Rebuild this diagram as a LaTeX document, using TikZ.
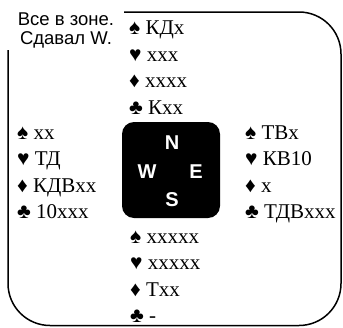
\documentclass[tikz,border=0pt]{standalone}
\usepackage{fontspec}
\setmainfont{Liberation Serif}
\newfontfamily\labelfont{Liberation Sans}
\newcommand*{\HandFont}{\fontsize{21}{24}\selectfont}
\newcommand*{\LineSkip}{26.5}

\begin{document}
\begin{tikzpicture}[x=1pt, y=-1pt,
    hand/.style={anchor=base west, inner sep=0pt, font=\HandFont},
    seat/.style={text=white, inner sep=0pt, font=\labelfont\bfseries\fontsize{20}{20}\selectfont}]
    \useasboundingbox (0,0) rectangle (343,327);
    % frame, partly hidden by the deal label
    \draw[line width=1.5pt, rounded corners=42pt] (8,12) rectangle (341,325.5);
    \fill[white] (0,0) rectangle (124,50);
    \node[align=center, inner sep=0pt, font=\labelfont\fontsize{18.5}{19}\selectfont] (deal) at (66,30) {Все в зоне.\\Сдавал W.};
    % table
    \node[fill=black, rounded corners=12pt, minimum width=98pt, minimum height=96pt] (table) at (171,170) {};
    \node[seat] (N) at (172,143) {N};
    \node[seat] (W) at (147,172) {W};
    \node[seat] (E) at (196,172) {E};
    \node[seat] (S) at (172,200) {S};
    % hands
    \foreach \s/\h [count=\i from 0] in {♠/КДx, ♥/xxx, ♦/xxxx, ♣/Кxx}
        \node[hand] (n\i) at (129, 34.5+\LineSkip*\i) {\s\ \h};
    \foreach \s/\h [count=\i from 0] in {♠/xx, ♥/ТД, ♦/КДВxx, ♣/10xxx}
        \node[hand] (w\i) at (17, 139+\LineSkip*\i) {\s\ \h};
    \foreach \s/\h [count=\i from 0] in {♠/ТВx, ♥/КВ10, ♦/x, ♣/ТДВxxx}
        \node[hand] (e\i) at (245, 139+\LineSkip*\i) {\s\ \h};
    \foreach \s/\h [count=\i from 0] in {♠/xxxxx, ♥/xxxxx, ♦/Тxx, ♣/-}
        \node[hand] (s\i) at (130, 243+\LineSkip*\i) {\s\ \h};
\end{tikzpicture}
\end{document}
